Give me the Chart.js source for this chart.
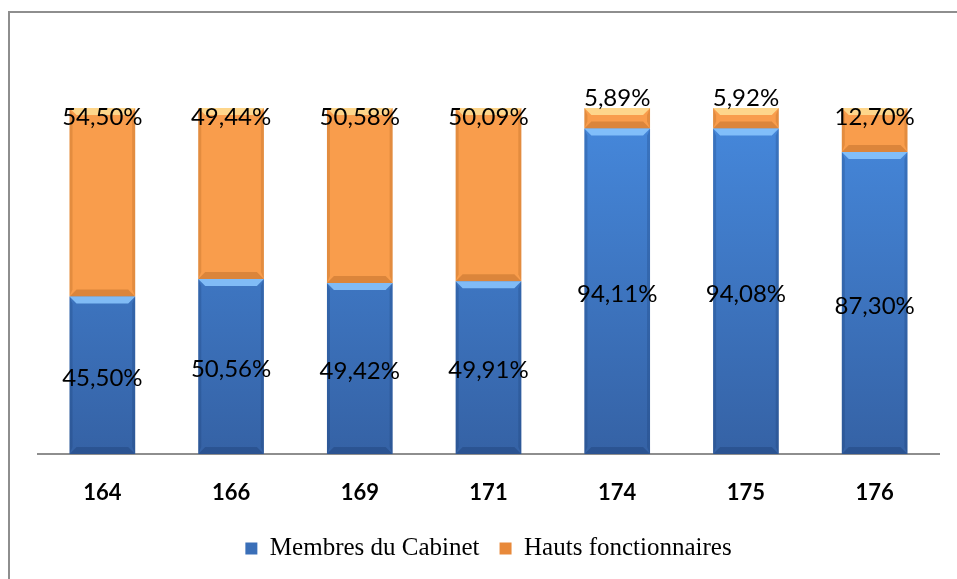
<!DOCTYPE html>
<html>
<head>
<meta charset="utf-8">
<script src="https://cdn.jsdelivr.net/npm/chart.js@4.4.0/dist/chart.umd.min.js"></script>
<style>
  html, body { margin: 0; padding: 0; background: #fff; }
  #frame { position: absolute; left: 8px; top: 11px; right: 0; bottom: 0;
           border-left: 2px solid #8e8e8e; border-top: 2px solid #8e8e8e; }
  #wrap { position: absolute; left: 0; top: 0; width: 957px; height: 579px; }
</style>
</head>
<body>
<div id="frame"></div>
<div id="wrap"><canvas id="myChart" width="957" height="579"></canvas></div>
<script>
// Données du graphique
const categories = ['164', '166', '169', '171', '174', '175', '176'];
const membresCabinet = [45.50, 50.56, 49.42, 49.91, 94.11, 94.08, 87.30];
const hautsFonctionnaires = [54.50, 49.44, 50.58, 50.09, 5.89, 5.92, 12.70];
const seriesNames = ['Membres du Cabinet', 'Hauts fonctionnaires'];

function fmt(v) {
    return v.toFixed(2).replace('.', ',') + '%';
}

// dégradé vertical pour les barres bleues
function blueFill(context) {
    const area = context.chart.chartArea;
    if (!area) return '#3f7fd4';
    const g = context.chart.ctx.createLinearGradient(0, area.top, 0, area.bottom);
    g.addColorStop(0, '#4689dd');
    g.addColorStop(1, '#3562a5');
    return g;
}

// effet biseauté façon Excel + étiquettes de données
const bevelPlugin = {
    id: 'bevel',
    afterDatasetsDraw(chart) {
        const ctx = chart.ctx;
        const styles = [
            { top: 'rgba(140,200,255,0.85)', bottom: 'rgba(20,50,100,0.3)', side: 'rgba(20,50,100,0.22)' },
            { top: 'rgba(255,225,150,0.85)', bottom: 'rgba(150,80,20,0.3)', side: 'rgba(150,80,20,0.22)' }
        ];
        chart.data.datasets.forEach((ds, di) => {
            const meta = chart.getDatasetMeta(di);
            const st = styles[di];
            meta.data.forEach((bar) => {
                const l = bar.x - bar.width / 2, r = bar.x + bar.width / 2;
                const t = bar.y, b = bar.base;
                const bv = Math.min(7, (b - t) / 2);
                ctx.save();
                ctx.fillStyle = st.top;
                ctx.beginPath();
                ctx.moveTo(l, t); ctx.lineTo(r, t); ctx.lineTo(r - bv, t + bv); ctx.lineTo(l + bv, t + bv);
                ctx.closePath(); ctx.fill();
                ctx.fillStyle = st.bottom;
                ctx.beginPath();
                ctx.moveTo(l, b); ctx.lineTo(r, b); ctx.lineTo(r - bv, b - bv); ctx.lineTo(l + bv, b - bv);
                ctx.closePath(); ctx.fill();
                ctx.fillStyle = st.side;
                ctx.beginPath();
                ctx.moveTo(l, t); ctx.lineTo(l + 3, t + bv); ctx.lineTo(l + 3, b - bv); ctx.lineTo(l, b);
                ctx.closePath(); ctx.fill();
                ctx.beginPath();
                ctx.moveTo(r, t); ctx.lineTo(r - 3, t + bv); ctx.lineTo(r - 3, b - bv); ctx.lineTo(r, b);
                ctx.closePath(); ctx.fill();
                ctx.restore();
            });
        });

        ctx.save();
        ctx.font = '24px Lato';
        ctx.fillStyle = '#000';
        ctx.textAlign = 'center';
        ctx.textBaseline = 'middle';
        chart.data.datasets.forEach((ds, di) => {
            const meta = chart.getDatasetMeta(di);
            meta.data.forEach((bar, i) => {
                const h = bar.base - bar.y;
                let y;
                if (di === 0) {
                    y = bar.y + h / 2 + 3;
                } else if (h > 40) {
                    y = bar.y + 9;
                } else {
                    y = bar.y - 10;
                }
                ctx.fillText(fmt(ds.data[i]), bar.x, y);
            });
        });
        ctx.restore();
    }
};

const ctx = document.getElementById('myChart').getContext('2d');
new Chart(ctx, {
    type: 'bar',
    data: {
        labels: categories,
        datasets: [
            {
                label: seriesNames[0],
                data: membresCabinet,
                backgroundColor: blueFill,
                borderWidth: 0
            },
            {
                label: seriesNames[1],
                data: hautsFonctionnaires,
                backgroundColor: '#f99d4c',
                borderWidth: 0
            }
        ]
    },
    options: {
        responsive: false,
        animation: false,
        layout: { padding: { left: 38, right: 18, top: 108, bottom: 8 } },
        datasets: {
            bar: { categoryPercentage: 1.0, barPercentage: 0.51 }
        },
        scales: {
            x: {
                stacked: true,
                grid: { display: false, drawTicks: false },
                border: { display: true, color: '#8e8e8e', width: 2 },
                ticks: {
                    color: '#000',
                    font: { family: 'Lato', size: 22, weight: 'bold' },
                    padding: 26
                },
                afterFit: (scale) => { scale.height = 62; }
            },
            y: {
                stacked: true,
                display: false,
                min: 0,
                max: 100
            }
        },
        plugins: {
            legend: {
                position: 'bottom',
                labels: {
                    color: '#000',
                    font: { family: 'Liberation Serif', size: 25 },
                    boxWidth: 12,
                    boxHeight: 12,
                    padding: 20,
                    generateLabels: (chart) => {
                        const cols = ['#3a6fb8', '#e8893a'];
                        return chart.data.datasets.map((ds, i) => ({
                            text: ds.label,
                            fillStyle: cols[i],
                            strokeStyle: cols[i],
                            lineWidth: 0,
                            hidden: false,
                            datasetIndex: i
                        }));
                    }
                }
            },
            tooltip: { enabled: false }
        }
    },
    plugins: [bevelPlugin]
});
</script>
</body>
</html>
